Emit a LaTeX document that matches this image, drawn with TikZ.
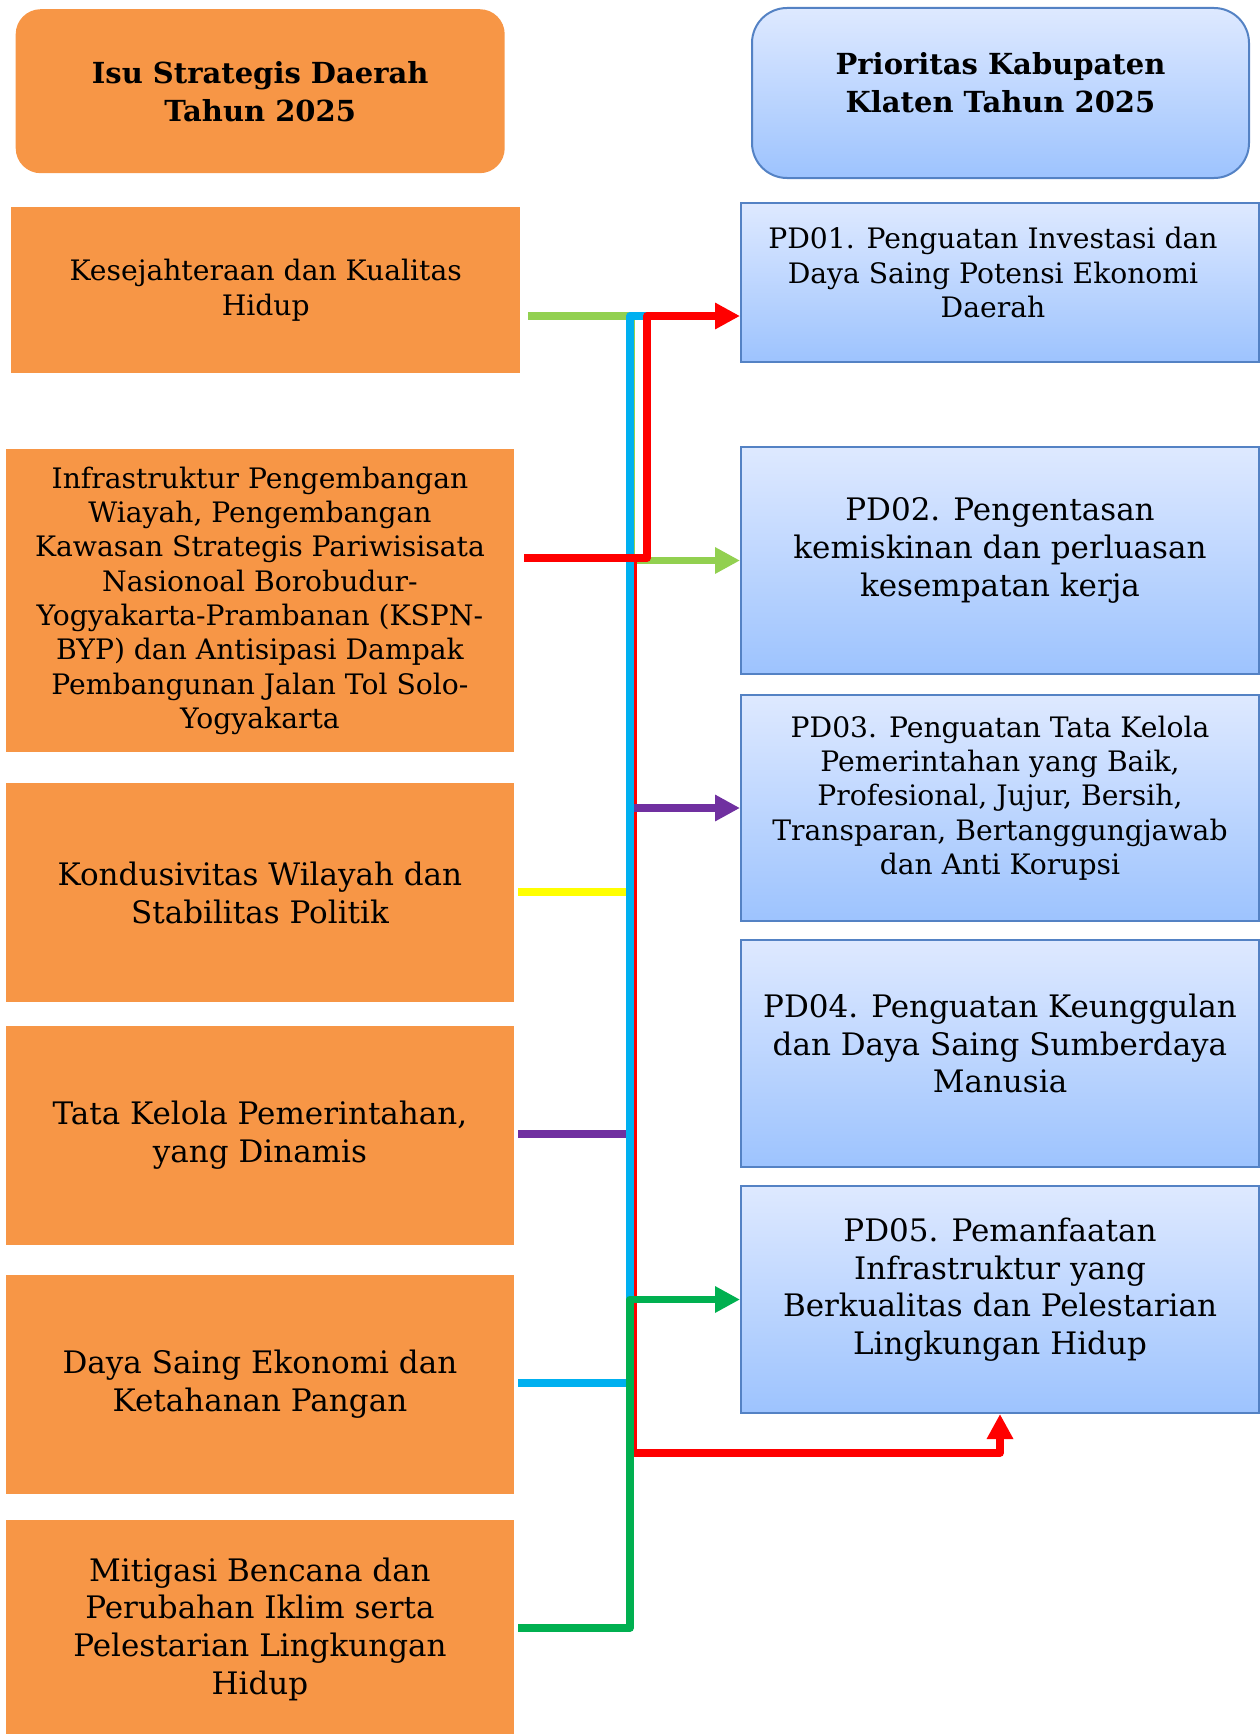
\documentclass[tikz,border=0pt]{standalone}
\usepackage{fontspec}
\setmainfont{DejaVu Serif}
\usetikzlibrary{arrows.meta,calc,shadings}
\definecolor{orng}{RGB}{247,150,70}
\definecolor{bluetop}{RGB}{222,233,255}
\definecolor{bluebot}{RGB}{157,195,254}
\definecolor{blueline}{RGB}{84,130,196}
\definecolor{lgreen}{RGB}{146,208,80}
\definecolor{cblue}{RGB}{0,176,240}
\definecolor{cred}{RGB}{255,0,0}
\definecolor{cyellow}{RGB}{255,255,0}
\definecolor{cpurple}{RGB}{112,48,160}
\definecolor{dgreen}{RGB}{0,176,80}
\tikzset{
  isubox/.style={fill=orng, draw=none, anchor=north west, inner sep=0pt},
  pdbox/.style={top color=bluetop, bottom color=bluebot, draw=blueline, line width=2pt, anchor=north west, inner sep=0pt},
  smalltxt/.style={align=center, font=\fontsize{28.2}{34.3}\selectfont, inner sep=0pt},
  largetxt/.style={align=center, font=\fontsize{31}{37.6}\selectfont, inner sep=0pt},
  headtxt/.style={align=center, font=\bfseries\fontsize{29}{38}\selectfont, inner sep=0pt},
  conn/.style={line width=7.5pt, line join=round},
  arr/.style={conn, -{Triangle[length=25pt,width=25pt]}}
}
\begin{document}
\begin{tikzpicture}[x=1pt,y=-1pt]
\useasboundingbox (0,0) rectangle (1259,1734);
% headers
\node[fill=orng, rounded corners=25pt, minimum width=489pt, minimum height=164pt, anchor=north west, inner sep=0pt] (hl) at (15.5,9) {};
\node[headtxt] (hlt) at (hl.center) {Isu Strategis Daerah\\Tahun 2025};
\node[pdbox, rounded corners=35pt, minimum width=497pt, minimum height=170pt] (hr) at (751,7) {};
\node[headtxt] (hrt) at ($(hr.center)+(0,-10)$) {Prioritas Kabupaten\\Klaten Tahun 2025};
% left boxes
\node[isubox, minimum width=509pt, minimum height=166pt] (b1) at (11,207) {};
\node[isubox, minimum width=508.5pt, minimum height=303pt] (b2) at (5.5,449) {};
\node[isubox, minimum width=508.5pt, minimum height=219pt] (b3) at (5.5,783) {};
\node[isubox, minimum width=508.5pt, minimum height=219pt] (b4) at (5.5,1025.5) {};
\node[isubox, minimum width=508.5pt, minimum height=219pt] (b5) at (5.5,1274.5) {};
\node[isubox, minimum width=508.5pt, minimum height=214pt] (b6) at (5.5,1520) {};
\node[smalltxt] (t1) at (b1.center) {Kesejahteraan dan Kualitas\\Hidup};
\node[smalltxt] (t2) at (b2.center) {Infrastruktur Pengembangan\\Wiayah, Pengembangan\\Kawasan Strategis Pariwisisata\\Nasionoal Borobudur-\\Yogyakarta-Prambanan (KSPN-\\BYP) dan Antisipasi Dampak\\Pembangunan Jalan Tol Solo-\\Yogyakarta};
\node[largetxt] (t3) at (b3.center) {Kondusivitas Wilayah dan\\Stabilitas Politik};
\node[largetxt] (t4) at (b4.center) {Tata Kelola Pemerintahan,\\yang Dinamis};
\node[largetxt] (t5) at (b5.center) {Daya Saing Ekonomi dan\\Ketahanan Pangan};
\node[largetxt] (t6) at ($(b6.center)+(0,2)$) {Mitigasi Bencana dan\\Perubahan Iklim serta\\Pelestarian Lingkungan\\Hidup};
% right boxes
\node[pdbox, minimum width=518pt, minimum height=159pt] (p1) at (740,202) {};
\node[pdbox, minimum width=518pt, minimum height=227pt] (p2) at (740,446) {};
\node[pdbox, minimum width=518pt, minimum height=226pt] (p3) at (740,694) {};
\node[pdbox, minimum width=518pt, minimum height=227pt] (p4) at (740,939) {};
\node[pdbox, minimum width=518pt, minimum height=227pt] (p5) at (740,1185) {};
\node[smalltxt] (q1) at ($(p1.center)+(-7,-10)$) {PD01. Penguatan Investasi dan\\Daya Saing Potensi Ekonomi\\Daerah};
\node[largetxt] (q2) at ($(p2.center)+(0,-10)$) {PD02. Pengentasan\\kemiskinan dan perluasan\\kesempatan kerja};
\node[smalltxt] (q3) at ($(p3.center)+(0,-10)$) {PD03. Penguatan Tata Kelola\\Pemerintahan yang Baik,\\Profesional, Jujur, Bersih,\\Transparan, Bertanggungjawab\\dan Anti Korupsi};
\node[largetxt] (q4) at ($(p4.center)+(0,-10)$) {PD04. Penguatan Keunggulan\\dan Daya Saing Sumberdaya\\Manusia};
\node[largetxt] (q5) at ($(p5.center)+(0,-10)$) {PD05. Pemanfaatan\\Infrastruktur yang\\Berkualitas dan Pelestarian\\Lingkungan Hidup};
% connector anchor points
\coordinate (s1) at (528,316);
\coordinate (s2) at (524,558);
\coordinate (s3) at (518,892);
\coordinate (s4) at (518,1134);
\coordinate (s5) at (518,1383);
\coordinate (s6) at (518,1628);
\coordinate (xb) at (630,0);
\coordinate (xg) at (631.5,0);
\coordinate (xrd) at (633.5,0);
\coordinate (xr) at (647,0);
\coordinate (rb) at (0,1453);
% connectors (bottom to top)
\draw[arr, lgreen] (s1) -| (xg |- p2.west) -- (p2.west);
\draw[arr, cred] (xrd |- s2) -- (xrd |- rb) -| (p5.south);
\draw[arr, cpurple] (s4) -| (xb |- p3.west) -- (p3.west);
\draw[conn, cyellow] (s3) -- (xb |- s3);
\draw[conn, cblue] (s5) -| (xb |- s1) -- (xr |- s1);
\draw[arr, cred] (s2) -| (xr |- s1) -- (p1.west |- s1);
\draw[arr, dgreen] (s6) -| (xb |- p5.west) -- (p5.west);
\end{tikzpicture}
\end{document}
